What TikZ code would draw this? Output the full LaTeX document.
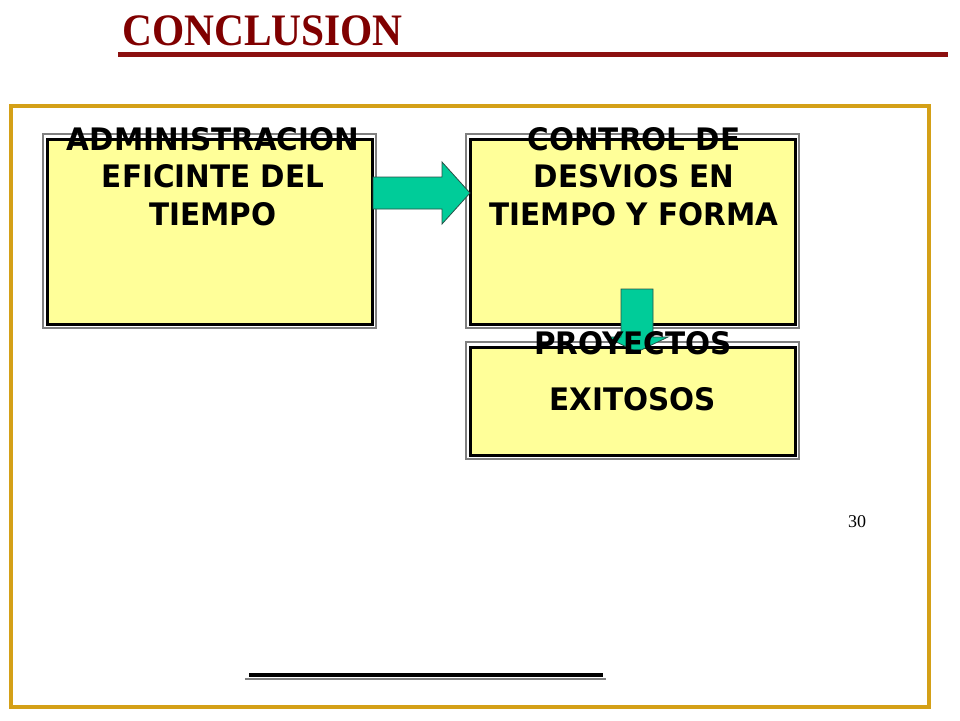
\documentclass[tikz,border=0pt]{standalone}
\usepackage{fontspec}
\setmainfont{Liberation Serif}
\newfontfamily\boxfont[FakeStretch=0.95]{DejaVu Sans}
\definecolor{titlered}{RGB}{128,0,0}
\definecolor{rulered}{RGB}{140,16,16}
\definecolor{framegold}{RGB}{212,160,23}
\definecolor{boxyellow}{RGB}{255,255,153}
\definecolor{arrowgreen}{RGB}{0,204,153}
\definecolor{arrowedge}{RGB}{40,80,70}
\begin{document}
\begin{tikzpicture}[x=1pt,y=-1pt,
  outerframe/.style={draw=gray,line width=1.5pt},
  innerframe/.style={draw=black,line width=3.5pt,fill=boxyellow},
  blockarrow/.style={fill=arrowgreen,draw=arrowedge,line width=0.8pt,line join=miter},
  boxtext/.style={inner sep=0pt,anchor=north,align=center,font=\boxfont\bfseries\fontsize{31}{37.5}\selectfont}]
\useasboundingbox (0,0) rectangle (960,720);
% title
\node[anchor=base west,inner sep=0pt,text=titlered] (title) at (122,45)
  {\scalebox{0.92}[1]{\fontsize{45}{50}\selectfont\bfseries CONCLUSION}};
\draw[rulered,line width=5pt] (118,54.5) -- (948,54.5);
% gold frame
\draw[framegold,line width=4pt] (10.5,105.5) rectangle (929,707);
% boxes
\draw[outerframe] (43,134) rectangle (376,328);
\draw[innerframe] (47.5,139.5) rectangle (372.5,324.5);
\draw[outerframe] (466,134) rectangle (799,328);
\draw[innerframe] (470.5,139.5) rectangle (795.5,324.5);
\draw[outerframe] (466,342) rectangle (799,459);
\draw[innerframe] (470.5,347.5) rectangle (795.5,455.5);
\coordinate (b1) at (213,127);
\coordinate (b2) at (634,127);
% arrows
\draw[blockarrow] (373,177) -- (442,177) -- (442,162) -- (470,193) -- (442,224) -- (442,209) -- (373,209) -- cycle;
\draw[blockarrow] (621,289) -- (653,289) -- (653,337) -- (668,337) -- (637,352) -- (606,337) -- (621,337) -- cycle;
% texts
\node[boxtext] (t1) at (b1) {ADMINISTRACION\\EFICINTE DEL\\TIEMPO};
\node[boxtext] (t2) at (b2) {CONTROL DE\\DESVIOS EN\\TIEMPO Y FORMA};
\node[boxtext] (t3) at (633,331) {PROYECTOS};
\node[boxtext] (t4) at (633,387) {EXITOSOS};
\node[anchor=base,inner sep=0pt,font=\fontsize{18}{20}\selectfont] (pg) at (857,527) {30};
% bottom line
\draw[gray,line width=1.5pt] (245,679) -- (606,679);
\draw[black,line width=4pt] (249,675) -- (603,675);
\end{tikzpicture}
\end{document}
